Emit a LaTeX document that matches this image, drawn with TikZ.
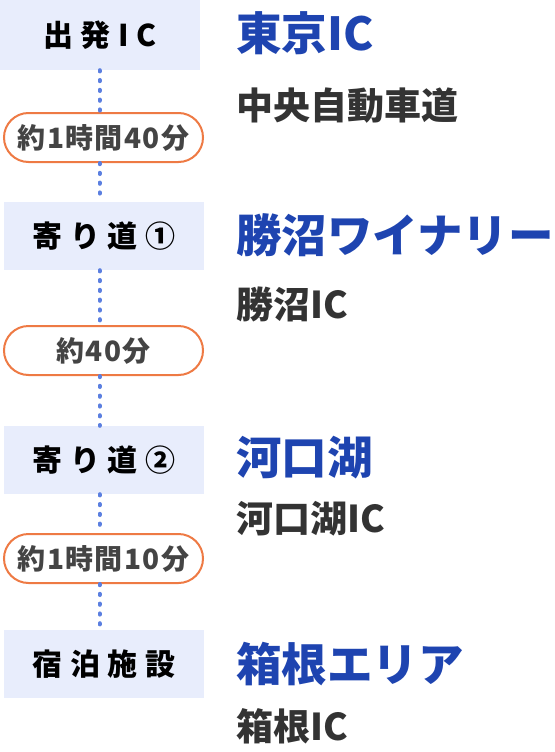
\documentclass[tikz,border=0pt]{standalone}
\usepackage{fontspec}
\setmainfont{Noto Sans CJK JP}
\usepackage{tikz}
\usetikzlibrary{calc}

\definecolor{routeblue}{HTML}{5B7FE0}
\definecolor{stopfill}{HTML}{E8EDFC}
\definecolor{timeorange}{HTML}{EE7A44}
\definecolor{placeblue}{HTML}{1E44B0}
\definecolor{subgray}{HTML}{333333}
\definecolor{timegray}{HTML}{444444}

\tikzset{
  stopbox/.style={fill=stopfill,inner sep=0,minimum width=200,minimum height=68,
    text height=25.2pt,text depth=1.8pt,
    font=\fontsize{30}{30}\selectfont\bfseries\addfontfeature{LetterSpace=26}},
  timepill/.style={draw=timeorange,line width=2pt,fill=white,rounded corners=24.5pt,
    inner sep=0,minimum width=199,minimum height=49,text=timegray,
    text height=23.5pt,text depth=1.7pt,
    font=\fontsize{28}{28}\selectfont\bfseries\addfontfeature{LetterSpace=5}},
  place/.style={anchor=west,inner sep=0,text=placeblue,text height=38.2pt,text depth=2.7pt,
    font=\fontsize{45.5}{45.5}\selectfont\bfseries},
  road/.style={anchor=west,inner sep=0,text=subgray,text height=31.1pt,text depth=2.2pt,
    font=\fontsize{37}{37}\selectfont\bfseries},
  route/.style={routeblue,line width=4pt,line cap=round,dash pattern=on 1.2pt off 8.6pt}
}

\begin{document}
\begin{tikzpicture}[x=1pt,y=-1pt]
\useasboundingbox (0,0) rectangle (554,752);
\coordinate (axis) at (99.5,0);

\node[stopbox,minimum height=70] (b1) at (100,35) {出発IC};
\node[stopbox] (b2) at (104,236) {寄り道①};
\node[stopbox] (b3) at (104,460) {寄り道②};
\node[stopbox] (b4) at (104,664) {宿泊施設};

\node[timepill] (p1) at (103.5,137.5) {約1時間40分};
\node[timepill] (p2) at (103.5,350.5) {約40分};
\node[timepill] (p3) at (103.5,558.5) {約1時間10分};

\draw[route] (b1.south -| axis) -- (p1.north -| axis);
\draw[route] (p1.south -| axis) -- (b2.north -| axis);
\draw[route] (b2.south -| axis) -- (p2.north -| axis);
\draw[route] (p2.south -| axis) -- (b3.north -| axis);
\draw[route] (b3.south -| axis) -- (p3.north -| axis);
\draw[route] (p3.south -| axis) -- (b4.north -| axis);

\node[place] (t1) at (236,33) {東京IC};
\node[road] (s1) at (236,105) {中央自動車道};
\node[place] (t2) at (236,235) {勝沼ワイナリー};
\node[road] (s2) at (236,304) {勝沼IC};
\node[place] (t3) at (236,457) {河口湖};
\node[road] (s3) at (236,518) {河口湖IC};
\node[place] (t4) at (236,664) {箱根エリア};
\node[road] (s4) at (236,726) {箱根IC};
\end{tikzpicture}
\end{document}
